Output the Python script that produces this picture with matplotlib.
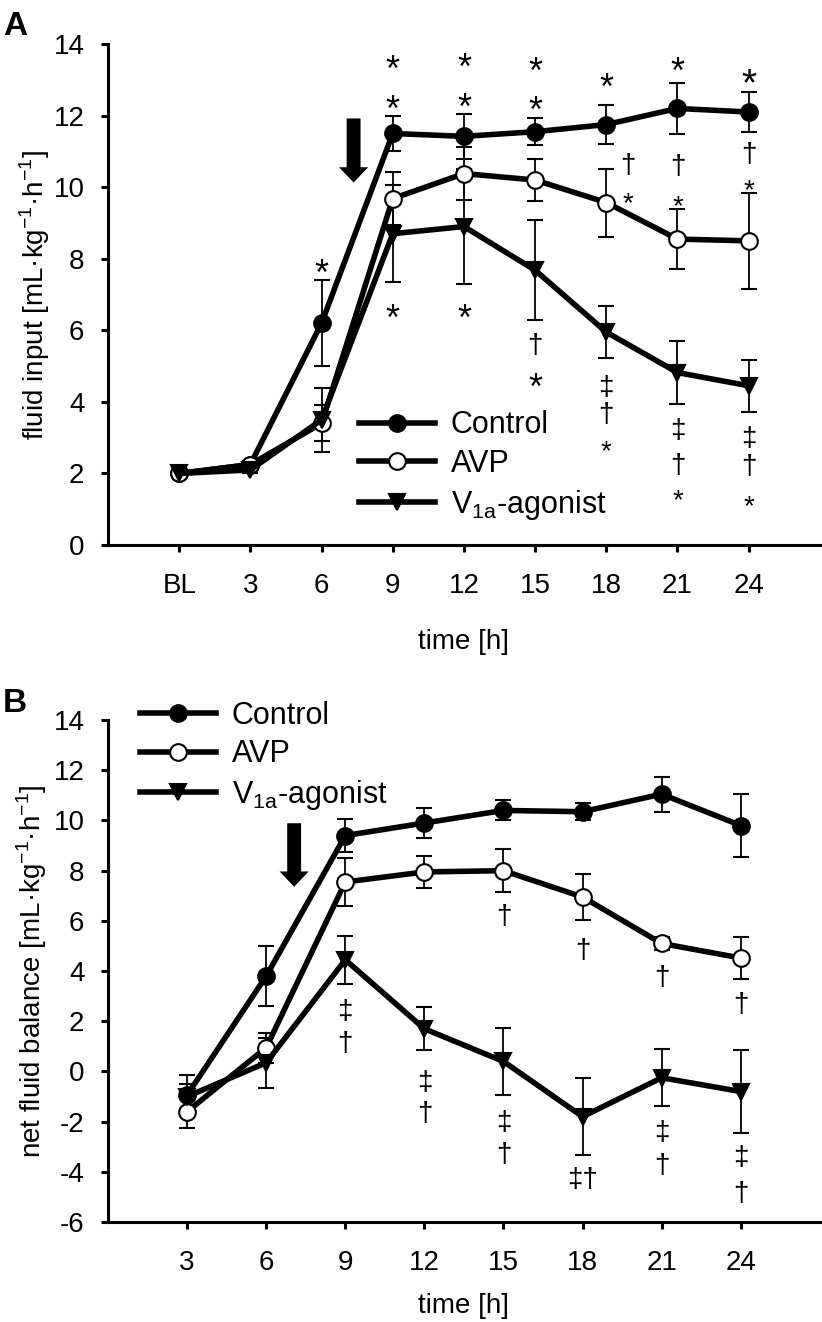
import numpy as np
import matplotlib
matplotlib.use("Agg")
import matplotlib.pyplot as plt
from matplotlib.lines import Line2D

plt.rcParams['font.family'] = ['Liberation Sans', 'DejaVu Sans']
plt.rcParams['mathtext.fontset'] = 'custom'
plt.rcParams['mathtext.rm'] = 'Liberation Sans'
plt.rcParams['axes.unicode_minus'] = False

# panel A: fluid input
labels_a = ['BL', '3', '6', '9', '12', '15', '18', '21', '24']
ctrl_a = [2.0, 2.25, 6.2, 11.5, 11.42, 11.55, 11.75, 12.2, 12.1]
ctrl_a_err = [0.1, 0.1, 1.2, 0.5, 0.62, 0.38, 0.55, 0.72, 0.56]
avp_a = [2.0, 2.25, 3.4, 9.68, 10.38, 10.2, 9.57, 8.55, 8.5]
avp_a_err = [0.1, 0.1, 0.5, 0.75, 0.75, 0.6, 0.95, 0.83, 1.35]
v1a_a = [2.0, 2.1, 3.5, 8.7, 8.9, 7.68, 5.95, 4.82, 4.45]
v1a_a_err = [0.1, 0.1, 0.9, 1.35, 1.6, 1.4, 0.72, 0.87, 0.72]

# significance marks panel A: (x index, y, symbol, size)
marks_a = [
    (2, 7.87, '*', 26),
    (3, 13.57, '*', 26), (3, 12.44, '*', 26), (3, 6.6, '*', 26),
    (4, 13.6, '*', 26), (4, 12.5, '*', 26), (4, 6.6, '*', 26),
    (5, 13.5, '*', 26), (5, 12.4, '*', 26), (5, 5.56, '†', 20), (5, 4.67, '*', 26),
    (6, 13.05, '*', 26), (6.3, 10.6, '†', 20), (6.3, 9.77, '*', 20),
    (6, 4.38, '‡', 20), (6, 3.63, '†', 20), (6, 2.83, '*', 20),
    (7, 13.5, '*', 26), (7, 10.55, '†', 20), (7, 9.7, '*', 20),
    (7, 3.2, '‡', 20), (7, 2.2, '†', 20), (7, 1.46, '*', 20),
    (8, 13.2, '*', 28), (8, 10.89, '†', 20), (8, 10.13, '*', 20),
    (8, 2.97, '‡', 20), (8, 2.17, '†', 20), (8, 1.32, '*', 20),
]

# panel B: net fluid balance
hours_b = [3, 6, 9, 12, 15, 18, 21, 24]
ctrl_b = [-0.94, 3.8, 9.4, 9.9, 10.4, 10.35, 11.05, 9.8]
ctrl_b_err = [0.8, 1.2, 0.65, 0.6, 0.4, 0.35, 0.7, 1.25]
avp_b = [-1.6, 0.95, 7.55, 7.95, 8.0, 6.95, 5.1, 4.52]
avp_b_err = [0.64, 0.6, 0.95, 0.65, 0.85, 0.93, 0.25, 0.85]
v1a_b = [-1.0, 0.35, 4.45, 1.7, 0.4, -1.8, -0.25, -0.8]
v1a_b_err = [0.5, 1.0, 0.95, 0.85, 1.35, 1.52, 1.13, 1.65]

marks_b = [
    (9, 2.38, '‡', 20), (9, 1.1, '†', 20),
    (12, -0.47, '‡', 20), (12, -1.68, '†', 20),
    (15, 6.15, '†', 20), (15, -2.04, '‡', 20), (15, -3.32, '†', 20),
    (18, 4.8, '†', 20), (18, -4.32, '‡†', 20),
    (21, 3.73, '†', 20), (21, -2.46, '‡', 20), (21, -3.75, '†', 20),
    (24, 2.66, '†', 20), (24, -3.46, '‡', 20), (24, -4.89, '†', 20),
]

series_style = [
    ('Control', dict(marker='o', mfc='black')),
    ('AVP', dict(marker='o', mfc='white')),
    ('V$_{\\mathregular{1a}}$-agonist', dict(marker='v', mfc='black')),
]


def draw_series(ax, x, ys, errs):
    for (name, st), y, e in zip(series_style, ys, errs):
        ax.errorbar(x, y, yerr=e, color='black', lw=4, marker=st['marker'],
                    ms=12, mfc=st['mfc'], mec='black', mew=1.5,
                    ecolor='black', elinewidth=1.3, capsize=6, capthick=1.3)


def draw_marks(ax, marks):
    for x, y, s, size in marks:
        dy = -0.32 * size if s == '*' else 0
        ax.annotate(s, (x, y), xytext=(0, dy), textcoords='offset points',
                    ha='center', va='center', fontsize=size)


def down_arrow(ax, x, top, tip):
    ax.annotate('', xy=(x, tip), xytext=(x, top),
                arrowprops=dict(arrowstyle='simple,head_length=11,head_width=21,tail_width=10',
                                mutation_scale=1, fc='black', ec='none', lw=0,
                                shrinkA=0, shrinkB=0))


def style_axes(ax):
    for s in ['top', 'right']:
        ax.spines[s].set_visible(False)
    for s in ['left', 'bottom']:
        ax.spines[s].set_linewidth(2.2)
    ax.tick_params(width=2.2, length=5, labelsize=20)
    ax.tick_params(axis='y', pad=12)
    ax.tick_params(axis='x', pad=15)


def add_legend(ax, anchor):
    handles = [Line2D([], [], color='black', lw=4, marker=st['marker'], ms=12,
                      mfc=st['mfc'], mec='black', mew=1.5) for _, st in series_style]
    ax.legend(handles, [n for n, _ in series_style], loc='center left',
              bbox_to_anchor=anchor, frameon=False, fontsize=22,
              handlelength=2.5, handletextpad=0.5, labelspacing=0.28,
              borderpad=0, borderaxespad=0)


fig = plt.figure(figsize=(8.22, 13.22), dpi=100)
ax_a = fig.add_axes([0.1314, 0.5877, 0.866, 0.379])
ax_b = fig.add_axes([0.1314, 0.0756, 0.866, 0.3797])

# panel A
xa = np.arange(len(labels_a))
draw_series(ax_a, xa, [ctrl_a, avp_a, v1a_a], [ctrl_a_err, avp_a_err, v1a_a_err])
draw_marks(ax_a, marks_a)
down_arrow(ax_a, 2.45, 11.92, 10.13)
ax_a.set_xlim(-1, 9)
ax_a.set_ylim(0, 14)
ax_a.set_xticks(xa)
ax_a.set_xticklabels(labels_a)
ax_a.set_yticks(np.arange(0, 15, 2))
style_axes(ax_a)
ax_a.set_xlabel('time [h]', fontsize=20, labelpad=22)
ax_a.set_ylabel('fluid input [mL·kg$^{\\mathregular{-1}}$·h$^{\\mathregular{-1}}$]',
                fontsize=20, labelpad=1)
add_legend(ax_a, (0.3525, 0.1577))

# panel B
draw_series(ax_b, hours_b, [ctrl_b, avp_b, v1a_b], [ctrl_b_err, avp_b_err, v1a_b_err])
draw_marks(ax_b, marks_b)
down_arrow(ax_b, 7.06, 9.89, 7.36)
ax_b.set_xlim(0, 27)
ax_b.set_ylim(-6, 14)
ax_b.set_xticks(hours_b)
ax_b.set_yticks(np.arange(-6, 15, 2))
style_axes(ax_b)
ax_b.set_xlabel('time [h]', fontsize=20, labelpad=12)
ax_b.set_ylabel('net fluid balance [mL·kg$^{\\mathregular{-1}}$·h$^{\\mathregular{-1}}$]',
                fontsize=20, labelpad=3)
add_legend(ax_b, (0.045, 0.928))

fig.text(0.018, 0.980, 'A', fontsize=24, fontweight='bold', ha='center', va='center')
fig.text(0.018, 0.468, 'B', fontsize=24, fontweight='bold', ha='center', va='center')

fig.savefig('out.png', dpi=100)
